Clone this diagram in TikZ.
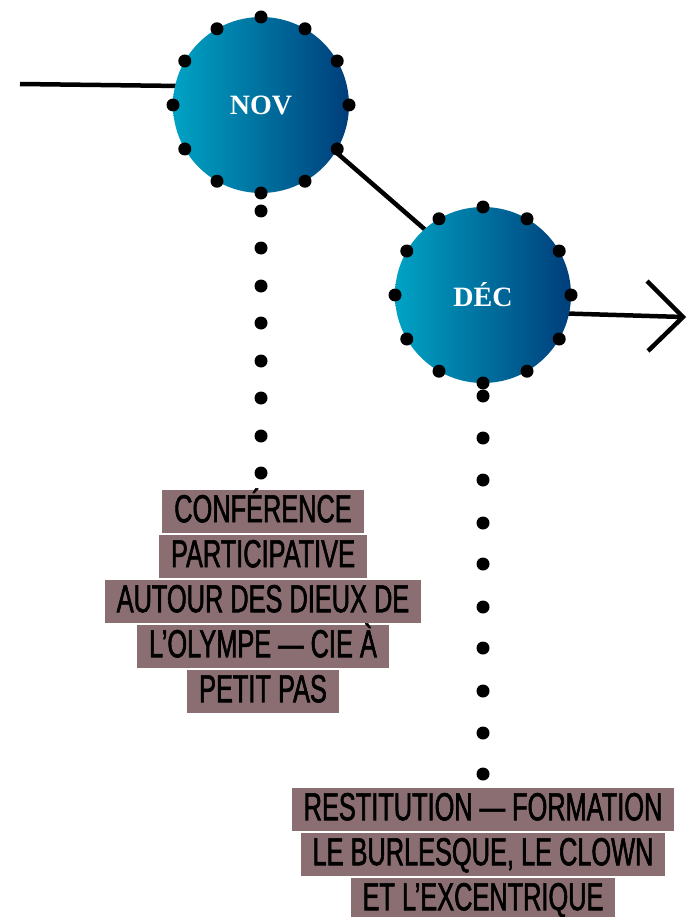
\documentclass[tikz,border=0pt]{standalone}
\usepackage{fontspec}
\usetikzlibrary{calc}
\newfontfamily\boxfont[FakeStretch=0.65,FakeBold=1.5]{Liberation Sans}
\newfontfamily\monthfont{Liberation Serif}
\definecolor{mauve}{RGB}{139,110,114}
\definecolor{tealL}{RGB}{0,163,196}
\definecolor{blueR}{RGB}{0,62,122}
\begin{document}
\begin{tikzpicture}[x=1pt,y=-1pt,
  month/.style={circle, minimum size=176pt, inner sep=0pt, left color=tealL, right color=blueR,
    text=white, font=\monthfont\bfseries\fontsize{28}{30}\selectfont},
  blackline/.style={line width=4.5pt, line cap=butt},
  dotmark/.style={fill=black, circle, minimum size=13pt, inner sep=0pt},
  label/.style={fill=mauve, inner xsep=12pt, inner ysep=0pt, text height=32pt, text depth=11pt,
    anchor=north, font=\boxfont\fontsize{39}{41}\selectfont}
]
\useasboundingbox (0,0) rectangle (687,917);
% connector coordinates
\coordinate (start) at (20,84);
\coordinate (novin) at (261,87);
\coordinate (decin) at (483,280);
\coordinate (decout) at (483,311);
\coordinate (tip) at (683,317);
\coordinate (armU) at (647,281);
\coordinate (armL) at (648,351);
% connectors (behind circles)
\draw[blackline] (start) -- (novin);
\draw[blackline] (novin) -- (decin);
\draw[blackline] (decout) -- (tip);
\draw[blackline, line join=miter] (armU) -- (tip) -- (armL);
% circles
\node[month] (nov) at (261,105) {NOV};
\node[month] (dec) at (483,295) {DÉC};
% dots around circles
\foreach \a [count=\i] in {0,30,...,330}{
  \node[dotmark] (novd\i) at ($(nov.center)+(\a:88pt)$) {};
  \node[dotmark] (decd\i) at ($(dec.center)+(\a:88pt)$) {};
}
% vertical dotted lines
\foreach \yy [count=\i] in {211,248,286,323,361,398,436,473}{
  \node[dotmark] (novv\i) at (261,\yy) {};
}
\foreach \yy [count=\i] in {396,438,480,523,564,607,648,691,733,774}{
  \node[dotmark] (decv\i) at (483,\yy) {};
}
% labels
\node[label] (n1) at (263,490) {CONFÉRENCE};
\node[label] (n2) at (263,535) {PARTICIPATIVE};
\node[label] (n3) at (263,580) {AUTOUR DES DIEUX DE};
\node[label] (n4) at (263,625) {L’OLYMPE — CIE À};
\node[label] (n5) at (263,670) {PETIT PAS};
\node[label] (d1) at (483,788) {RESTITUTION — FORMATION};
\node[label] (d2) at (483,833) {LE BURLESQUE, LE CLOWN};
\node[label] (d3) at (483,878) {ET L’EXCENTRIQUE};
\end{tikzpicture}
\end{document}
